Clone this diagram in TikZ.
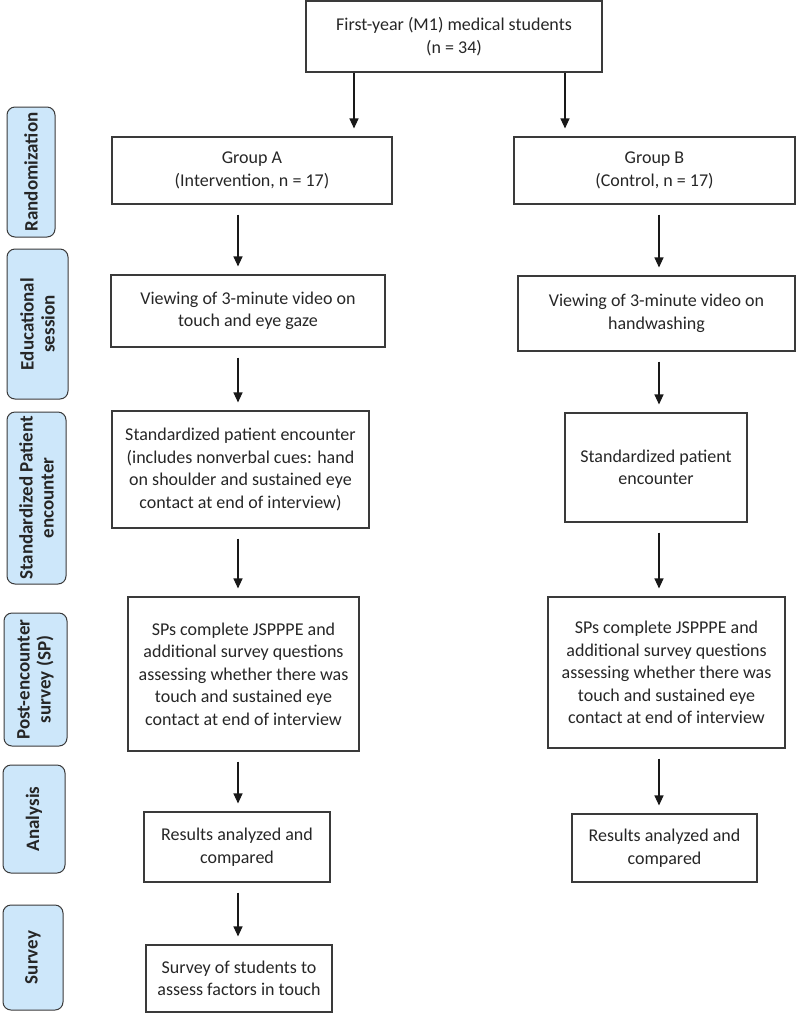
\documentclass[tikz,border=0pt]{standalone}
\usepackage{fontspec}
\setmainfont{Carlito}
\usetikzlibrary{arrows.meta}
\definecolor{stageblue}{HTML}{CDE7FA}
\definecolor{boxline}{HTML}{3A3A3A}

\begin{document}
\begin{tikzpicture}
      [x=1pt, y=-1pt,
       font=\fontsize{18}{22.5}\selectfont,
       every node/.style={text=black!85, align=center, inner sep=0pt},
       box/.style={draw=boxline, line width=1.1pt},
       stage/.style={draw=boxline, line width=1pt, fill=stageblue, rounded corners=8pt,
                     rotate=90, font=\fontsize{19}{21}\selectfont\bfseries},
       arr/.style={draw=black!90, line width=1.2pt, -{Triangle[length=10pt,width=9pt]},
                   shorten <=10pt, shorten >=8pt}]
      \useasboundingbox (0,0) rectangle (796,1013);

      % stages on the left
      \node[stage, minimum width=130pt, minimum height=48pt] (st1) at (31,172) {Randomization};
      \node[stage, minimum width=150pt, minimum height=61pt] (st2) at (37.5,324) {Educational\\session};
      \node[stage, minimum width=172pt, minimum height=59pt] (st3) at (36.5,498) {Standardized Patient\\encounter};
      \node[stage, minimum width=133pt, minimum height=63pt] (st4) at (35.5,679.5) {Post-encounter\\survey (SP)};
      \node[stage, minimum width=108pt, minimum height=62pt] (st5) at (34,819) {Analysis};
      \node[stage, minimum width=105pt, minimum height=60pt] (st6) at (33,957.5) {Survey};

      \node[box, minimum width=296pt, minimum height=71pt] (top) at (454,36.5)
        {First-year (M1) medical students\\(n = 34)};

      % group A
      \node[box, minimum width=280pt, minimum height=67pt] (gA) at (252,170.5)
        {Group A\\(Intervention, n = 17)};
      \node[box, minimum width=274pt, minimum height=72pt] (vA) at (248,311)
        {Viewing of 3-minute video on\\touch and eye gaze};
      \node[box, minimum width=257pt, minimum height=117pt] (sA) at (240.5,469.5)
        {Standardized patient encounter\\(includes nonverbal cues: hand\\on shoulder and sustained eye\\contact at end of interview)};
      \node[box, minimum width=231pt, minimum height=154pt] (pA) at (243.5,674)
        {SPs complete JSPPPE and\\additional survey questions\\assessing whether there was\\touch and sustained eye\\contact at end of interview};
      \node[box, minimum width=186pt, minimum height=70pt] (rA) at (237,847)
        {Results analyzed and\\compared};
      \node[box, minimum width=186pt, minimum height=67pt] (svA) at (239,978.5)
        {Survey of students to\\assess factors in touch};

      % group B
      \node[box, minimum width=281pt, minimum height=67pt] (gB) at (654.5,170.5)
        {Group B\\(Control, n = 17)};
      \node[box, minimum width=277pt, minimum height=75pt] (vB) at (656.5,313.5)
        {Viewing of 3-minute video on\\handwashing};
      \node[box, minimum width=182pt, minimum height=109pt] (sB) at (656,467.5)
        {Standardized patient\\encounter};
      \node[box, minimum width=237pt, minimum height=151pt] (pB) at (666.5,672.5)
        {SPs complete JSPPPE and\\additional survey questions\\assessing whether there was\\touch and sustained eye\\contact at end of interview};
      \node[box, minimum width=185pt, minimum height=68pt] (rB) at (664.5,848)
        {Results analyzed and\\compared};

      \coordinate (splitA) at (354,0);
      \coordinate (splitB) at (565,0);
      \coordinate (colA) at (238,0);
      \coordinate (colB) at (659,0);

      \draw[arr, shorten <=0pt] (top.south -| splitA) -- (gA.north -| splitA);
      \draw[arr, shorten <=0pt] (top.south -| splitB) -- (gB.north -| splitB);

      \foreach \from/\to in {gA/vA, vA/sA, sA/pA, pA/rA, rA/svA}
      \draw[arr] (\from.south -| colA) -- (\to.north -| colA);
      \foreach \from/\to in {gB/vB, vB/sB, sB/pB, pB/rB}
      \draw[arr] (\from.south -| colB) -- (\to.north -| colB);
    \end{tikzpicture}
\end{document}
